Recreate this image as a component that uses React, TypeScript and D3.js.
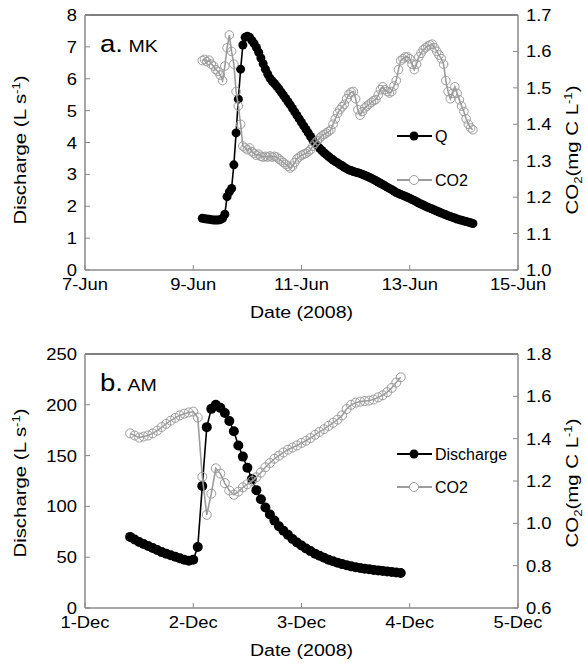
import React from "react";
import * as d3 from "d3";

// ---------- data ----------
// Panel a (MK): hourly values starting 9-Jun-2008 04:00
const mkStart = new Date(2008, 5, 9, 4);
const mkQ = [
  1.62, 1.61, 1.6, 1.59, 1.58, 1.57, 1.57, 1.57, 1.58, 1.62,
  1.75, 2.3, 2.45, 2.56, 3.3, 4.3, 5.36, 6.3, 7.06, 7.3,
  7.33, 7.3, 7.2, 7.1, 6.98, 6.83, 6.65, 6.47, 6.3, 6.15,
  6.02, 5.93, 5.85, 5.77, 5.68, 5.58, 5.48, 5.38, 5.28, 5.18,
  5.07, 4.96, 4.85, 4.74, 4.63, 4.52, 4.41, 4.3, 4.19, 4.08,
  3.98, 3.9, 3.82, 3.75, 3.68, 3.62, 3.56, 3.5, 3.45, 3.4,
  3.36, 3.31, 3.27, 3.22, 3.18, 3.14, 3.12, 3.09, 3.07, 3.05,
  3.03, 3.0, 2.97, 2.94, 2.91, 2.88, 2.84, 2.8, 2.76, 2.72,
  2.68, 2.64, 2.6, 2.56, 2.52, 2.48, 2.43, 2.4, 2.37, 2.34,
  2.31, 2.28, 2.25, 2.21, 2.18, 2.14, 2.1, 2.07, 2.04, 2.0,
  1.97, 1.94, 1.91, 1.88, 1.85, 1.82, 1.79, 1.76, 1.73, 1.7,
  1.68, 1.65, 1.63, 1.6, 1.58, 1.56, 1.54, 1.52, 1.5, 1.48, 1.46,
];
const mkCO2 = [
  1.575, 1.578, 1.572, 1.576, 1.565, 1.56, 1.55, 1.545, 1.535, 1.52,
  1.56, 1.61, 1.645, 1.6, 1.565, 1.49, 1.45, 1.4, 1.34, 1.335,
  1.33, 1.335, 1.325, 1.32, 1.315, 1.318, 1.312, 1.31, 1.312, 1.31,
  1.313, 1.31, 1.312, 1.31, 1.305, 1.3, 1.295, 1.29, 1.285, 1.28,
  1.285, 1.295, 1.305, 1.31, 1.315, 1.318, 1.32, 1.325, 1.33, 1.34,
  1.348, 1.355, 1.362, 1.368, 1.372, 1.376, 1.38, 1.385, 1.4, 1.415,
  1.43, 1.44, 1.448, 1.455, 1.47, 1.482, 1.488, 1.49, 1.47, 1.44,
  1.425, 1.435, 1.445, 1.45, 1.455, 1.46, 1.465, 1.468, 1.48, 1.495,
  1.503, 1.495, 1.49, 1.486, 1.49, 1.505, 1.52, 1.55, 1.575, 1.58,
  1.585, 1.585, 1.58, 1.565, 1.55, 1.565, 1.585, 1.595, 1.605, 1.61,
  1.615, 1.618, 1.62, 1.61, 1.6, 1.59, 1.58, 1.565, 1.52, 1.49,
  1.47, 1.485, 1.503, 1.485, 1.467, 1.45, 1.435, 1.415, 1.4, 1.39, 1.385,
];

// Panel b (AM): hourly values starting 1-Dec-2008 10:00
const amStart = new Date(2008, 11, 1, 10);
const amQ = [
  70, 67.5, 65, 63, 61, 59, 57, 55, 53.5, 52,
  50.5, 49, 47.5, 46.5, 47.5, 60, 120, 178, 196, 200,
  197, 192, 184, 174, 160, 149, 138, 127, 116, 107,
  99, 92, 86, 80.5, 76, 72, 68, 64.5, 61.5, 58.5,
  56, 53.5, 51.5, 49.5, 47.5, 46, 44.5, 43.2, 42, 41,
  40.2, 39.4, 38.7, 38.1, 37.5, 37, 36.4, 35.9, 35.4, 34.9, 34.4,
];
const amCO2 = [
  1.425, 1.415, 1.405, 1.41, 1.415, 1.425, 1.438, 1.455, 1.47, 1.485,
  1.498, 1.51, 1.518, 1.524, 1.528, 1.5, 1.22, 1.04, 1.14, 1.26,
  1.235, 1.19, 1.155, 1.135, 1.15, 1.17, 1.185, 1.2, 1.218, 1.24,
  1.265, 1.285, 1.305, 1.32, 1.335, 1.348, 1.358, 1.368, 1.38, 1.39,
  1.403, 1.418, 1.432, 1.445, 1.46, 1.475, 1.49, 1.51, 1.54, 1.56,
  1.57, 1.575, 1.578, 1.58, 1.585, 1.595, 1.605, 1.62, 1.64, 1.665, 1.69,
];

const mkXDomain = [new Date(2008, 5, 7), new Date(2008, 5, 15)];
const amXDomain = [new Date(2008, 11, 1), new Date(2008, 11, 5)];
const mkLeftDomain = [0, 8];
const mkRightDomain = [1.0, 1.7];
const amLeftDomain = [0, 250];
const amRightDomain = [0.6, 1.8];

// ---------- styling ----------
const FONT = "'Liberation Sans', Arial, Helvetica, sans-serif";
const AXIS_GRAY = "#8a8a8a";
const CO2_GRAY = "#9c9c9c";
const SX = 1.15;

type TProps = {
  x: number;
  y: number;
  size: number;
  anchor?: string;
  rotate?: number;
  sx?: number;
  children: React.ReactNode;
};
const T = ({ x, y, size, anchor = "start", rotate = 0, sx = SX, children }: TProps) => (
  <text
    transform={`translate(${x},${y}) rotate(${rotate}) scale(${sx},1)`}
    fontSize={size}
    textAnchor={anchor}
    fontFamily={FONT}
    fill="#000"
  >
    {children}
  </text>
);

type PanelProps = {
  top: number;
  bottom: number;
  xDomain: Date[];
  xTickStep: number;
  leftDomain: number[];
  leftTicks: number;
  rightDomain: number[];
  rightTicks: number;
  rightFmt: string;
  start: Date;
  q: number[];
  co2: number[];
  qR: number;
  cR: number;
  letter: string;
  site: string;
  legendQ: string;
  legendY1: number;
  legendY2: number;
  titleCenter: number;
};

const L = 85;
const R = 518;

function Panel(p: PanelProps) {
  const x = d3.scaleTime().domain(p.xDomain).range([L, R]);
  const yL = d3.scaleLinear().domain(p.leftDomain).range([p.bottom, p.top]);
  const yR = d3.scaleLinear().domain(p.rightDomain).range([p.bottom, p.top]);
  const times = p.q.map((_, i) => d3.timeHour.offset(p.start, i));
  const qPts = p.q.map((v, i) => [x(times[i]), yL(v)] as [number, number]);
  const cPts = p.co2.map((v, i) => [x(times[i]), yR(v)] as [number, number]);
  const line = d3.line();
  const xTicks = d3.timeDay.every(p.xTickStep)!.range(p.xDomain[0], d3.timeDay.offset(p.xDomain[1], 1));
  const fmtX = d3.timeFormat("%-d-%b");
  const lTicks = yL.ticks(p.leftTicks);
  const rTicks = yR.ticks(p.rightTicks);
  const fR = d3.format(p.rightFmt);
  const tk = 5;
  const lx1 = 397, lx2 = 432, lcx = 414;
  return (
    <g>
      {/* data */}
      <path d={line(qPts) ?? ""} fill="none" stroke="#000" strokeWidth={1.6} />
      {qPts.map((d, i) => (
        <circle key={"q" + i} cx={d[0]} cy={d[1]} r={p.qR} fill="#000" />
      ))}
      <path d={line(cPts) ?? ""} fill="none" stroke={CO2_GRAY} strokeWidth={1.6} />
      {cPts.map((d, i) => (
        <circle key={"c" + i} cx={d[0]} cy={d[1]} r={p.cR} fill="none" stroke={CO2_GRAY} strokeWidth={1} />
      ))}

      {/* frame */}
      <line x1={L} x2={R} y1={p.top} y2={p.top} stroke="#000" strokeWidth={1.2} />
      <line x1={L} x2={L} y1={p.top} y2={p.bottom} stroke={AXIS_GRAY} strokeWidth={1.5} />
      <line x1={R} x2={R} y1={p.top} y2={p.bottom} stroke={AXIS_GRAY} strokeWidth={1.5} />
      <line x1={L} x2={R} y1={p.bottom} y2={p.bottom} stroke={AXIS_GRAY} strokeWidth={1.5} />

      {/* left ticks */}
      {lTicks.map((t) => (
        <g key={"l" + t}>
          <line x1={L} x2={L + tk} y1={yL(t)} y2={yL(t)} stroke={AXIS_GRAY} strokeWidth={1} />
          <T x={77} y={yL(t) + 6} size={16} anchor="end">{String(t)}</T>
        </g>
      ))}
      {/* right ticks */}
      {rTicks.map((t) => (
        <g key={"r" + t}>
          <line x1={R - tk} x2={R} y1={yR(t)} y2={yR(t)} stroke={AXIS_GRAY} strokeWidth={1} />
          <T x={526} y={yR(t) + 6} size={16} anchor="start">{fR(t)}</T>
        </g>
      ))}
      {/* x ticks */}
      {xTicks.map((t) => (
        <g key={"x" + +t}>
          <line x1={x(t)} x2={x(t)} y1={p.bottom} y2={p.bottom - tk} stroke={AXIS_GRAY} strokeWidth={1} />
          <T x={x(t)} y={p.bottom + 20} size={16} anchor="middle">{fmtX(t)}</T>
        </g>
      ))}

      {/* axis titles */}
      <T x={(L + R) / 2} y={p.bottom + 48} size={17} anchor="middle">Date (2008)</T>
      <T x={26} y={p.titleCenter} size={17} anchor="middle" rotate={-90} sx={1.2}>
        Discharge (L s<tspan dy={-6} fontSize={11}>-1</tspan><tspan dy={6}>)</tspan>
      </T>
      <T x={578} y={p.titleCenter} size={17} anchor="middle" rotate={-90} sx={1.2}>
        CO<tspan dy={4} fontSize={11}>2</tspan><tspan dy={-4}>(mg C L</tspan>
        <tspan dy={-6} fontSize={11}>-1</tspan><tspan dy={6}>)</tspan>
      </T>

      {/* panel label */}
      <T x={100} y={p.top + 37} size={24} anchor="start">
        {p.letter}<tspan fontSize={17}> {p.site}</tspan>
      </T>

      {/* legend */}
      <line x1={lx1} x2={lx2} y1={p.legendY1} y2={p.legendY1} stroke="#000" strokeWidth={1.8} />
      <circle cx={lcx} cy={p.legendY1} r={4.5} fill="#000" />
      <text x={435} y={p.legendY1 + 6} fontSize={16} fontFamily={FONT}>{p.legendQ}</text>
      <line x1={lx1} x2={lx2} y1={p.legendY2} y2={p.legendY2} stroke={CO2_GRAY} strokeWidth={1.8} />
      <circle cx={lcx} cy={p.legendY2} r={4.5} fill="#fff" stroke={CO2_GRAY} strokeWidth={1} />
      <text x={435} y={p.legendY2 + 6} fontSize={16} fontFamily={FONT}>CO2</text>
    </g>
  );
}

export default function App() {
  return (
    <svg
      width={586}
      height={666}
      style={{ position: "absolute", left: 0, top: 0, background: "#fff" }}
    >
      <rect width={586} height={666} fill="#fff" />
      <Panel
        top={15}
        bottom={270}
        xDomain={mkXDomain}
        xTickStep={2}
        leftDomain={mkLeftDomain}
        leftTicks={8}
        rightDomain={mkRightDomain}
        rightTicks={7}
        rightFmt=".1f"
        start={mkStart}
        q={mkQ}
        co2={mkCO2}
        qR={4.5}
        cR={4.3}
        letter="a."
        site="MK"
        legendQ="Q"
        legendY1={136}
        legendY2={180}
        titleCenter={150}
      />
      <Panel
        top={354}
        bottom={608}
        xDomain={amXDomain}
        xTickStep={1}
        leftDomain={amLeftDomain}
        leftTicks={5}
        rightDomain={amRightDomain}
        rightTicks={6}
        rightFmt=".1f"
        start={amStart}
        q={amQ}
        co2={amCO2}
        qR={5}
        cR={4.5}
        letter="b."
        site="AM"
        legendQ="Discharge"
        legendY1={454}
        legendY2={487}
        titleCenter={483}
      />
    </svg>
  );
}
